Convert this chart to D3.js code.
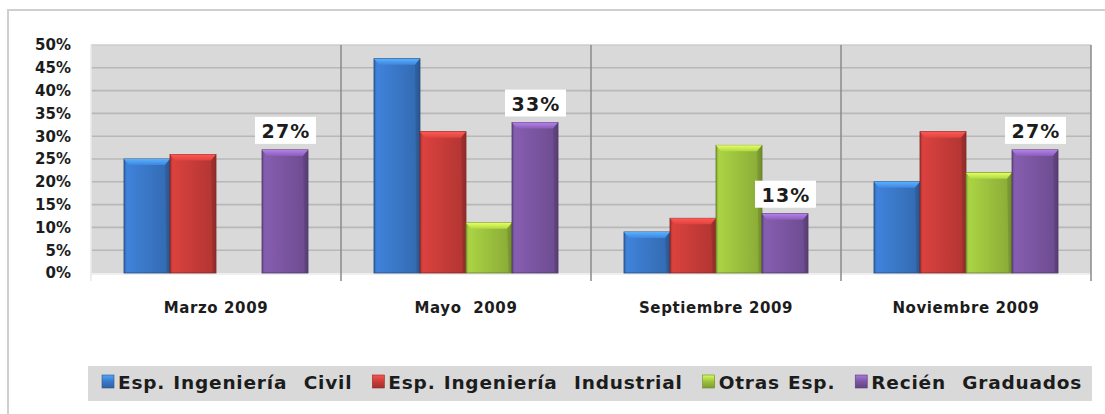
<!DOCTYPE html>
<html><head><meta charset="utf-8">
<script src="https://cdn.jsdelivr.net/npm/d3@7"></script>
<style>
body{margin:0;background:#fff}
svg{display:block}
text{font-family:"DejaVu Sans",Verdana,sans-serif;font-weight:bold;fill:#1c1c1c;white-space:pre}
</style></head>
<body><svg id="c" width="1105" height="414"></svg>
<script>
const categories = ["Marzo 2009", "Mayo  2009", "Septiembre 2009", "Noviembre 2009"];
const seriesNames = ["Esp. Ingeniería  Civil", "Esp. Ingeniería  Industrial", "Otras Esp.", "Recién  Graduados"];
const civil = [0.25, 0.47, 0.09, 0.20];
const industrial = [0.26, 0.31, 0.12, 0.31];
const otras = [0, 0.11, 0.28, 0.22];
const recien = [0.27, 0.33, 0.13, 0.27];
const yTicks = [0, 0.05, 0.10, 0.15, 0.20, 0.25, 0.30, 0.35, 0.40, 0.45, 0.50];
const colors = ["#3a78c8", "#c83c39", "#9cc23e", "#7b56a2"];
const seriesValues = [civil, industrial, otras, recien];
const labeledSeries = 3;

const svg = d3.select("#c");
const M = {left: 91, right: 1091, top: 45, bottom: 273};

// outer border
svg.append("rect").attr("x", 8).attr("y", 10).attr("width", 1120).attr("height", 430)
  .attr("fill", "#fff").attr("stroke", "#cfcfcf").attr("stroke-width", 2);

const x0 = d3.scaleBand().domain(categories).range([M.left, M.right]).padding(0);
const x1 = d3.scaleBand().domain(d3.range(seriesNames.length)).range([0, x0.bandwidth()])
  .paddingInner(0).paddingOuter(0.717);
const y = d3.scaleLinear().domain([0, 0.5]).range([M.bottom, M.top]);

// defs: gradients
const defs = svg.append("defs");
colors.forEach((c, i) => {
  const g = defs.append("linearGradient").attr("id", "g" + i).attr("x1", 0).attr("x2", 1).attr("y1", 0).attr("y2", 0);
  const base = d3.color(c);
  g.append("stop").attr("offset", 0).attr("stop-color", base.darker(0.5));
  g.append("stop").attr("offset", 0.06).attr("stop-color", base.brighter(0.25));
  g.append("stop").attr("offset", 0.45).attr("stop-color", base);
  g.append("stop").attr("offset", 0.9).attr("stop-color", base.darker(0.3));
  g.append("stop").attr("offset", 1).attr("stop-color", base.darker(1));
  const t = defs.append("linearGradient").attr("id", "t" + i).attr("x1", 0).attr("x2", 0).attr("y1", 0).attr("y2", 1);
  t.append("stop").attr("offset", 0).attr("stop-color", base.brighter(1.1));
  t.append("stop").attr("offset", 1).attr("stop-color", base.brighter(0.3));
});

// plot background
svg.append("rect").attr("x", M.left).attr("y", M.top).attr("width", M.right - M.left).attr("height", M.bottom - M.top)
  .attr("fill", "#d9d9d9");

// gridlines
svg.append("g").selectAll("line").data(yTicks.slice(1)).join("line")
  .attr("x1", M.left).attr("x2", M.right).attr("y1", d => y(d)).attr("y2", d => y(d))
  .attr("stroke", d => d === 0.5 ? "#cdcdcd" : "#b8b8b8").attr("stroke-width", 1.6);

// bottom axis line
svg.append("line").attr("x1", M.left).attr("x2", M.right).attr("y1", M.bottom + 1).attr("y2", M.bottom + 1)
  .attr("stroke", "#efefef").attr("stroke-width", 2);

// category separators
svg.append("g").selectAll("line").data(categories).join("line")
  .attr("x1", d => x0(d) + x0.bandwidth()).attr("x2", d => x0(d) + x0.bandwidth())
  .attr("y1", M.top).attr("y2", M.bottom + 8)
  .attr("stroke", "#8a8a8a").attr("stroke-width", 1.5);
svg.append("line").attr("x1", M.left).attr("x2", M.left).attr("y1", M.top).attr("y2", M.bottom + 8)
  .attr("stroke", "#e8e8e8").attr("stroke-width", 1.5);

// y axis labels
const yAxis = d3.axisLeft(y).tickValues(yTicks).tickFormat(d3.format(".0%")).tickSize(0).tickPadding(20);
const ya = svg.append("g").attr("transform", `translate(${M.left},0)`).call(yAxis);
ya.select(".domain").remove();
ya.selectAll("text").attr("font-size", 15).attr("font-family", null).attr("fill", "#1c1c1c");

// x axis labels
const xAxis = d3.axisBottom(x0).tickSize(0).tickPadding(0);
const xa = svg.append("g").attr("transform", `translate(0,${M.bottom})`).call(xAxis);
xa.select(".domain").remove();
xa.selectAll("text").attr("font-size", 15).attr("font-family", null).attr("fill", "#1c1c1c")
  .attr("dy", null).attr("y", 40).attr("letter-spacing", 0.6);

// bars
const groups = svg.append("g").selectAll("g").data(categories).join("g")
  .attr("transform", d => `translate(${x0(d)},0)`);
groups.each(function(cat, ci) {
  const g = d3.select(this);
  seriesValues.forEach((vals, si) => {
    const v = vals[ci];
    if (!v) return;
    const bx = x1(si), bw = x1.bandwidth(), by = y(v), bh = y(0) - y(v);
    const b = 5;
    g.append("rect").attr("x", bx).attr("y", by).attr("width", bw).attr("height", bh)
      .attr("fill", `url(#g${si})`).attr("stroke", d3.color(colors[si]).darker(1.3)).attr("stroke-width", 0.8);
    g.append("path")
      .attr("d", `M${bx},${by}L${bx + bw},${by}L${bx + bw - b},${by + b + 1}L${bx + b},${by + b + 1}Z`)
      .attr("fill", `url(#t${si})`);
    g.append("path")
      .attr("d", `M${bx + bw},${by}L${bx + bw},${by + bh}L${bx + bw - 3},${by + bh}L${bx + bw - b},${by + b + 1}Z`)
      .attr("fill", d3.color(colors[si]).darker(0.9)).attr("opacity", 0.5);
  });
  // data label for labeled series
  const v = seriesValues[labeledSeries][ci];
  const cx = x1(labeledSeries) + x1.bandwidth() / 2;
  g.append("rect").attr("x", cx - 30).attr("y", y(v) - 33).attr("width", 61).attr("height", 27).attr("fill", "#fff");
  g.append("text").attr("x", cx + 1).attr("y", y(v) - 12).attr("text-anchor", "middle")
    .attr("font-size", 19).attr("letter-spacing", 1.2).text(d3.format(".0%")(v));
});

// legend
svg.append("rect").attr("x", 88).attr("y", 366).attr("width", 1004).attr("height", 35).attr("fill", "#d9d9d9");
const leg = svg.append("g");
let lx = 102;
seriesNames.forEach((name, i) => {
  const base = d3.color(colors[i]);
  const mg = defs.append("linearGradient").attr("id", "m" + i).attr("x1", 0).attr("x2", 0).attr("y1", 0).attr("y2", 1);
  mg.append("stop").attr("offset", 0).attr("stop-color", base.brighter(0.9));
  mg.append("stop").attr("offset", 0.5).attr("stop-color", base);
  mg.append("stop").attr("offset", 1).attr("stop-color", base.darker(0.6));
  leg.append("rect").attr("x", lx).attr("y", 375).attr("width", 12).attr("height", 13)
    .attr("fill", `url(#m${i})`).attr("stroke", base.darker(1)).attr("stroke-width", 0.6);
  const t = leg.append("text").attr("x", lx + 16).attr("y", 389).attr("font-size", 18.5)
    .attr("letter-spacing", 0.8).attr("word-spacing", 1).text(name);
  lx = lx + 16 + t.node().getComputedTextLength() + 20;
});
</script></body></html>
